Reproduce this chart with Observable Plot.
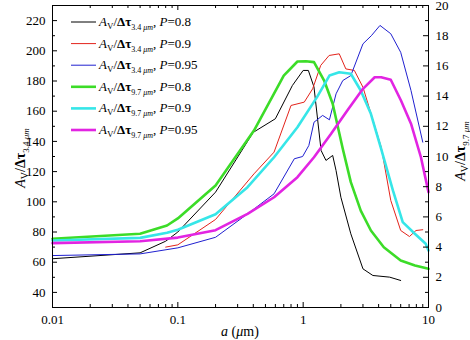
<!DOCTYPE html>
<html>
<head>
<meta charset="utf-8">
<script src="https://cdn.jsdelivr.net/npm/d3@7"></script>
<script src="https://cdn.jsdelivr.net/npm/@observablehq/plot@0.6"></script>
<style>
  body { margin: 0; background: #fff; }
  #chart svg { display: block; }
</style>
</head>
<body>
<div id="chart"></div>
<script>
// Grain radius a (µm) and extinction ratio A_V/Δτ for the 3.4 µm band (left axis)
const a34_p080 = [0.01, 0.05, 0.08, 0.1, 0.2, 0.4, 0.6, 0.82, 1.0, 1.1, 1.22, 1.39, 1.52, 1.72, 1.83, 2.0, 2.4, 3.0, 3.6, 4.9, 6.0];
const v34_p080 = [62.3, 66.2, 73.9, 80, 106.4, 146, 155, 177, 187, 187, 176, 134, 127.4, 130.7, 120.7, 103, 78.8, 55.6, 51.2, 50.1, 47.9];

const a34_p090 = [0.08, 0.1, 0.2, 0.405, 0.586, 0.8, 1.02, 1.19, 1.38, 1.61, 1.94, 2.19, 2.56, 3.0, 4.2, 5.0, 6.0, 7.05, 7.95, 9.0];
const v34_p090 = [70, 71.5, 88.3, 118.5, 132.9, 163.8, 166, 174.8, 190.3, 196.9, 198, 188, 187, 175.9, 136, 100.9, 81, 77, 81, 81.5];

const a34_p095 = [0.01, 0.05, 0.1, 0.2, 0.36, 0.586, 0.85, 0.99, 1.11, 1.22, 1.43, 1.62, 1.83, 2.07, 2.4, 3.0, 3.5, 4.1, 5.0, 6.0, 7.25, 9.0];
const v34_p095 = [64.4, 65.5, 69.5, 76.5, 92, 105.3, 128.5, 130, 137.3, 152.7, 157.2, 154.3, 171.5, 180.3, 183.6, 204.6, 210, 216.8, 211.3, 199, 173.7, 139.5];

// A_V/Δτ for the 9.7 µm band (right axis)
const a97_p080 = [0.01, 0.05, 0.082, 0.1, 0.2, 0.405, 0.7, 0.9, 1.05, 1.22, 1.47, 1.72, 2.07, 2.4, 2.88, 3.47, 4.4, 6.0, 7.8, 10];
const v97_p080 = [4.55, 4.88, 5.43, 5.9, 8.08, 11.72, 15.36, 16.29, 16.31, 16.25, 15.03, 13.49, 10.51, 8.3, 6.42, 5.1, 3.99, 3.11, 2.78, 2.56];

const a97_p090 = [0.01, 0.05, 0.082, 0.1, 0.2, 0.36, 0.586, 0.9, 1.29, 1.62, 1.94, 2.4, 2.88, 3.47, 4.19, 5.2, 6.23, 7.78, 9.5, 10];
const v97_p090 = [4.44, 4.61, 4.95, 5.15, 6.18, 7.97, 9.95, 11.94, 13.93, 15.36, 15.58, 15.48, 14.37, 12.83, 10.51, 7.75, 5.65, 4.88, 4.22, 3.77];

const a97_p095 = [0.01, 0.05, 0.1, 0.2, 0.36, 0.586, 0.9, 1.22, 1.67, 2.25, 3.0, 3.72, 4.19, 5.0, 6.03, 7.25, 8.7, 10];
const v97_p095 = [4.26, 4.39, 4.63, 5.12, 6.2, 7.3, 8.63, 9.95, 11.5, 13.05, 14.48, 15.25, 15.25, 15.08, 13.71, 12.17, 9.95, 7.64];

// Axis domains and ticks
const xDomain = [0.01, 10];
const leftDomain = [30, 230];
const rightDomain = [0, 20];
const xMajor = [0.01, 0.1, 1, 10];
const leftLabels = [40, 60, 80, 100, 120, 140, 160, 180, 200, 220];
const rightLabels = [0, 2, 4, 6, 8, 10, 12, 14, 16, 18, 20];

// Series: band, porosity, style
const seriesDefs = [
  {band: "3.4", p: "0.8",  a: a34_p080, v: v34_p080, color: "#000000", width: 1},
  {band: "3.4", p: "0.9",  a: a34_p090, v: v34_p090, color: "#e3231b", width: 1},
  {band: "3.4", p: "0.95", a: a34_p095, v: v34_p095, color: "#2020d0", width: 1},
  {band: "9.7", p: "0.8",  a: a97_p080, v: v97_p080, color: "#3cdc28", width: 2.6},
  {band: "9.7", p: "0.9",  a: a97_p090, v: v97_p090, color: "#36e6e8", width: 2.6},
  {band: "9.7", p: "0.95", a: a97_p095, v: v97_p095, color: "#e224e2", width: 2.6}
];

// Right-axis values are drawn on the shared left scale
const rightToLeft = d3.scaleLinear(rightDomain, leftDomain);

const W = 470, H = 340;
const M = {left: 52, right: 42, top: 5, bottom: 33};
const plotW = W - M.left - M.right, plotH = H - M.top - M.bottom;
const majorLen = 5, minorLen = 3;
const FONT = "Liberation Serif";

const xMinor = [];
for (const dec of [0.01, 0.1, 1]) for (let k = 2; k <= 9; ++k) xMinor.push(+(k * dec).toPrecision(3));
const leftMinor = d3.range(50, 230, 20);
const rightMinor = d3.range(1, 20, 2).map(rightToLeft);
const rightMajor = rightLabels.map(rightToLeft);

const lineMarks = seriesDefs.map(s => {
  const rows = s.a.map((a, i) => ({a, v: s.band === "9.7" ? rightToLeft(s.v[i]) : s.v[i]}));
  return Plot.line(rows, {x: "a", y: "v", stroke: s.color, strokeWidth: s.width, strokeLinejoin: "round"});
});

const svg = Plot.plot({
  width: W, height: H,
  marginLeft: M.left, marginRight: M.right, marginTop: M.top, marginBottom: M.bottom,
  style: {fontFamily: FONT, fontSize: "13px", background: "#fff", color: "#000"},
  x: {type: "log", domain: xDomain},
  y: {domain: leftDomain},
  marks: [
    ...lineMarks,
    Plot.frame({stroke: "#000", strokeWidth: 1}),
    // inward ticks on all four sides
    Plot.tickX(xMajor, {x: d => d, insetTop: plotH - majorLen, stroke: "#000"}),
    Plot.tickX(xMinor, {x: d => d, insetTop: plotH - minorLen, stroke: "#000"}),
    Plot.tickX(xMajor, {x: d => d, insetBottom: plotH - majorLen, stroke: "#000"}),
    Plot.tickX(xMinor, {x: d => d, insetBottom: plotH - minorLen, stroke: "#000"}),
    Plot.tickY(leftLabels, {y: d => d, insetRight: plotW - majorLen, stroke: "#000"}),
    Plot.tickY(leftMinor, {y: d => d, insetRight: plotW - minorLen, stroke: "#000"}),
    Plot.tickY(rightMajor, {y: d => d, insetLeft: plotW - majorLen, stroke: "#000"}),
    Plot.tickY(rightMinor, {y: d => d, insetLeft: plotW - minorLen, stroke: "#000"}),
    Plot.axisX({ticks: xMajor, tickSize: 0, tickPadding: 7, tickFormat: d => String(d), label: null}),
    Plot.axisY({ticks: leftLabels, tickSize: 0, tickPadding: 7, label: null}),
    Plot.axisY({anchor: "right", ticks: rightMajor, tickSize: 0, tickPadding: 7,
                tickFormat: d => String(Math.round(rightToLeft.invert(d))), label: null})
  ]
});

document.getElementById("chart").appendChild(svg);
const root = d3.select(svg);

// Mixed-style text (italic, bold, subscripts) built from tspans
function rich(text, parts) {
  for (const p of parts) {
    const ts = text.append("tspan").text(p.t);
    if (p.i) ts.attr("font-style", "italic");
    if (p.b) ts.attr("font-weight", "bold");
    if (p.s) ts.attr("font-size", p.s);
    if (p.dy) ts.attr("dy", p.dy);
  }
  return text;
}
// A_V/Δτ with the band as a subscript (ends 4px below the baseline)
function ratioParts(band, subSize) {
  return [
    {t: "A", i: true},
    {t: "V", s: subSize, dy: 3},
    {t: "/", dy: -3},
    {t: "Δτ", b: true},
    {t: band + " ", s: subSize - 1, dy: 4},
    {t: "μm", s: subSize - 1, i: true}
  ];
}

// Legend inside the plot area
const leg = root.append("g").attr("font-family", FONT).attr("font-size", 13).attr("text-anchor", "start");
const legX0 = M.left + 19, legX1 = M.left + 44, legTextX = M.left + 47;
const legY0 = M.top + 17, legStep = 21.6;
seriesDefs.forEach((s, i) => {
  const y = legY0 + i * legStep;
  leg.append("line").attr("x1", legX0).attr("x2", legX1).attr("y1", y).attr("y2", y)
    .attr("stroke", s.color).attr("stroke-width", s.width);
  const t = leg.append("text").attr("x", legTextX).attr("y", y + 4);
  rich(t, [...ratioParts(s.band, 9), {t: ", ", dy: -4}, {t: "P", i: true}, {t: "=" + s.p}]);
});

// Axis titles
const titles = root.append("g").attr("font-family", FONT).attr("font-size", 14).attr("text-anchor", "middle");
rich(titles.append("text").attr("x", M.left + plotW / 2).attr("y", H - 4),
  [{t: "a", i: true}, {t: " ("}, {t: "μ", i: true}, {t: "m)"}]);
rich(titles.append("text").attr("transform", `translate(${20},${M.top + plotH / 2 + 2}) rotate(-90)`).attr("dy", "0.35em"),
  ratioParts("3.4", 10));
rich(titles.append("text").attr("transform", `translate(${W - 10},${M.top + plotH / 2 - 5}) rotate(-90)`).attr("dy", "0.35em"),
  ratioParts("9.7", 10));
</script>
</body>
</html>
